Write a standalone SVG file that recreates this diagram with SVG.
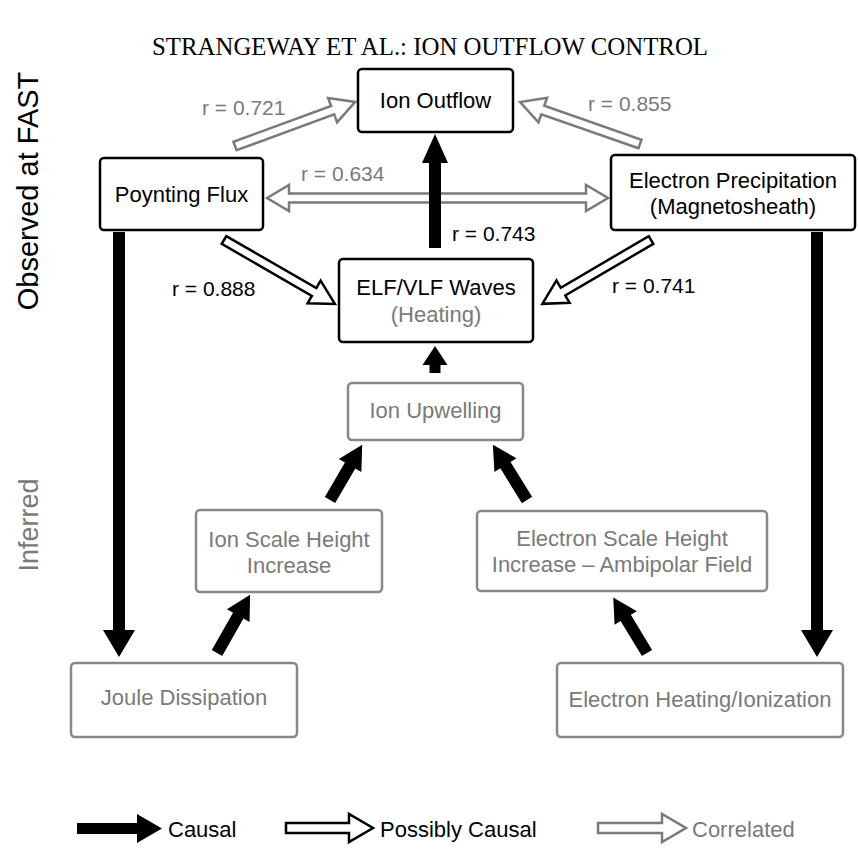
<svg xmlns="http://www.w3.org/2000/svg" width="858" height="861" viewBox="0 0 858 861">
<style>
text{font-family:"Liberation Sans",Arial,Helvetica,sans-serif;font-size:21px}
.n{font-size:22px}
.c{text-anchor:middle}
.g{fill:#7a7a7a}
.k{fill:#000}
.bk{fill:#fff;stroke:#000;stroke-width:2.5}
.bg{fill:#fff;stroke:#888;stroke-width:2.5}
.causal{fill:#000;stroke:none}
.poss{fill:#fff;stroke:#000;stroke-width:2.5;stroke-linejoin:miter}
.corr{fill:#fff;stroke:#7a7a7a;stroke-width:2.5;stroke-linejoin:miter}
.side{font-size:29px}
</style>
<rect width="858" height="861" fill="#fff"/>
<text x="152" y="55" textLength="556" lengthAdjust="spacingAndGlyphs" style="font-family:'Liberation Serif','Times New Roman',serif;font-size:25px">STRANGEWAY ET AL.: ION OUTFLOW CONTROL</text>
<text class="side" transform="translate(38,191) rotate(-90)" text-anchor="middle">Observed at FAST</text>
<text class="side g" transform="translate(38,525) rotate(-90)" text-anchor="middle" style="font-size:27px">Inferred</text>

<g id="connectors">
<polygon class="corr" transform="translate(235,146) rotate(-20.14)" points="0,-4.5 104,-4.5 104,-13 128,0 104,13 104,4.5 0,4.5"/>
<polygon class="corr" transform="translate(640,144) rotate(-160.71)" points="0,-4.5 103,-4.5 103,-13 127,0 103,13 103,4.5 0,4.5"/>
<polygon class="corr" points="267,198 289,185 289,193.5 586,193.5 586,185 608,198 586,211 586,202.5 289,202.5 289,211"/>
<polygon class="poss" transform="translate(224,240) rotate(29.97)" points="0,-4.5 104,-4.5 104,-13 128,0 104,13 104,4.5 0,4.5"/>
<polygon class="poss" transform="translate(651,240) rotate(149.58)" points="0,-4.5 102,-4.5 102,-13 126,0 102,13 102,4.5 0,4.5"/>
<polygon class="causal" transform="translate(435,248) rotate(-90)" points="0,-6 85,-6 85,-13 114,0 85,13 85,6 0,6"/>
<polygon class="causal" transform="translate(435,373) rotate(-90)" points="0,-5.5 8,-5.5 8,-12.5 27,0 8,12.5 8,5.5 0,5.5"/>
<polygon class="causal" transform="translate(330,500) rotate(-59.8)" points="0,-6 40,-6 40,-13 64,0 40,13 40,6 0,6"/>
<polygon class="causal" transform="translate(527,500) rotate(-121.7)" points="0,-6 41,-6 41,-13 65,0 41,13 41,6 0,6"/>
<polygon class="causal" transform="translate(217,653) rotate(-60.4)" points="0,-6 43,-6 43,-13 67,0 43,13 43,6 0,6"/>
<polygon class="causal" transform="translate(647,653) rotate(-121.3)" points="0,-6 41,-6 41,-13 65,0 41,13 41,6 0,6"/>
<polygon class="causal" points="113,232 125,232 125,630 135,630 119,657 103,630 113,630"/>
<polygon class="causal" points="811,232 823,232 823,630 833,630 817,657 801,630 811,630"/>
</g>

<g id="labels">
<text class="g" x="202" y="115">r = 0.721</text>
<text class="g" x="588" y="111">r = 0.855</text>
<text class="g" x="301" y="181">r = 0.634</text>
<text class="k" x="452" y="241">r = 0.743</text>
<text class="k" x="172" y="296">r = 0.888</text>
<text class="k" x="612" y="293">r = 0.741</text>
</g>

<g id="node-ion-outflow">
<rect class="bk" x="358" y="69" width="155" height="63" rx="4"/>
<text class="c n" x="435.5" y="108">Ion Outflow</text>
</g>
<g id="node-poynting-flux">
<rect class="bk" x="100" y="158" width="163" height="72" rx="4"/>
<text class="c n" x="181.5" y="202">Poynting Flux</text>
</g>
<g id="node-electron-precipitation">
<rect class="bk" x="611" y="155" width="244" height="75" rx="4"/>
<text class="c n" x="733" y="188">Electron Precipitation</text>
<text class="c n" x="733" y="214">(Magnetosheath)</text>
</g>
<g id="node-elf-vlf">
<rect class="bk" x="339" y="259" width="194" height="83" rx="4"/>
<text class="c n" x="436" y="295">ELF/VLF Waves</text>
<text class="c n g" x="436" y="322">(Heating)</text>
</g>
<g id="node-ion-upwelling">
<rect class="bg" x="348" y="383" width="175" height="57" rx="4"/>
<text class="c n g" x="435.5" y="418">Ion Upwelling</text>
</g>
<g id="node-ion-scale-height">
<rect class="bg" x="196" y="510" width="186" height="82" rx="4"/>
<text class="c n g" x="289" y="547">Ion Scale Height</text>
<text class="c n g" x="289" y="573">Increase</text>
</g>
<g id="node-electron-scale-height">
<rect class="bg" x="477" y="511" width="290" height="80" rx="4"/>
<text class="c n g" x="622" y="546">Electron Scale Height</text>
<text class="c n g" x="622" y="572">Increase – Ambipolar Field</text>
</g>
<g id="node-joule-dissipation">
<rect class="bg" x="71" y="663" width="226" height="74" rx="4"/>
<text class="c n g" x="184" y="705">Joule Dissipation</text>
</g>
<g id="node-electron-heating">
<rect class="bg" x="557" y="663" width="286" height="74" rx="4"/>
<text class="c n g" x="700" y="707">Electron Heating/Ionization</text>
</g>

<g id="legend">
<polygon class="causal" points="77,823 137,823 137,814 162,828.5 137,843 137,834 77,834"/>
<text x="168" y="837" style="font-size:22px">Causal</text>
<polygon class="poss" points="286,823 349,823 349,814 373,828 349,842 349,833 286,833"/>
<text x="380" y="837" style="font-size:22px">Possibly Causal</text>
<polygon class="corr" points="598,823 662,823 662,814 686,828 662,842 662,833 598,833"/>
<text class="g" x="692" y="837" style="font-size:22px">Correlated</text>
</g>
</svg>
